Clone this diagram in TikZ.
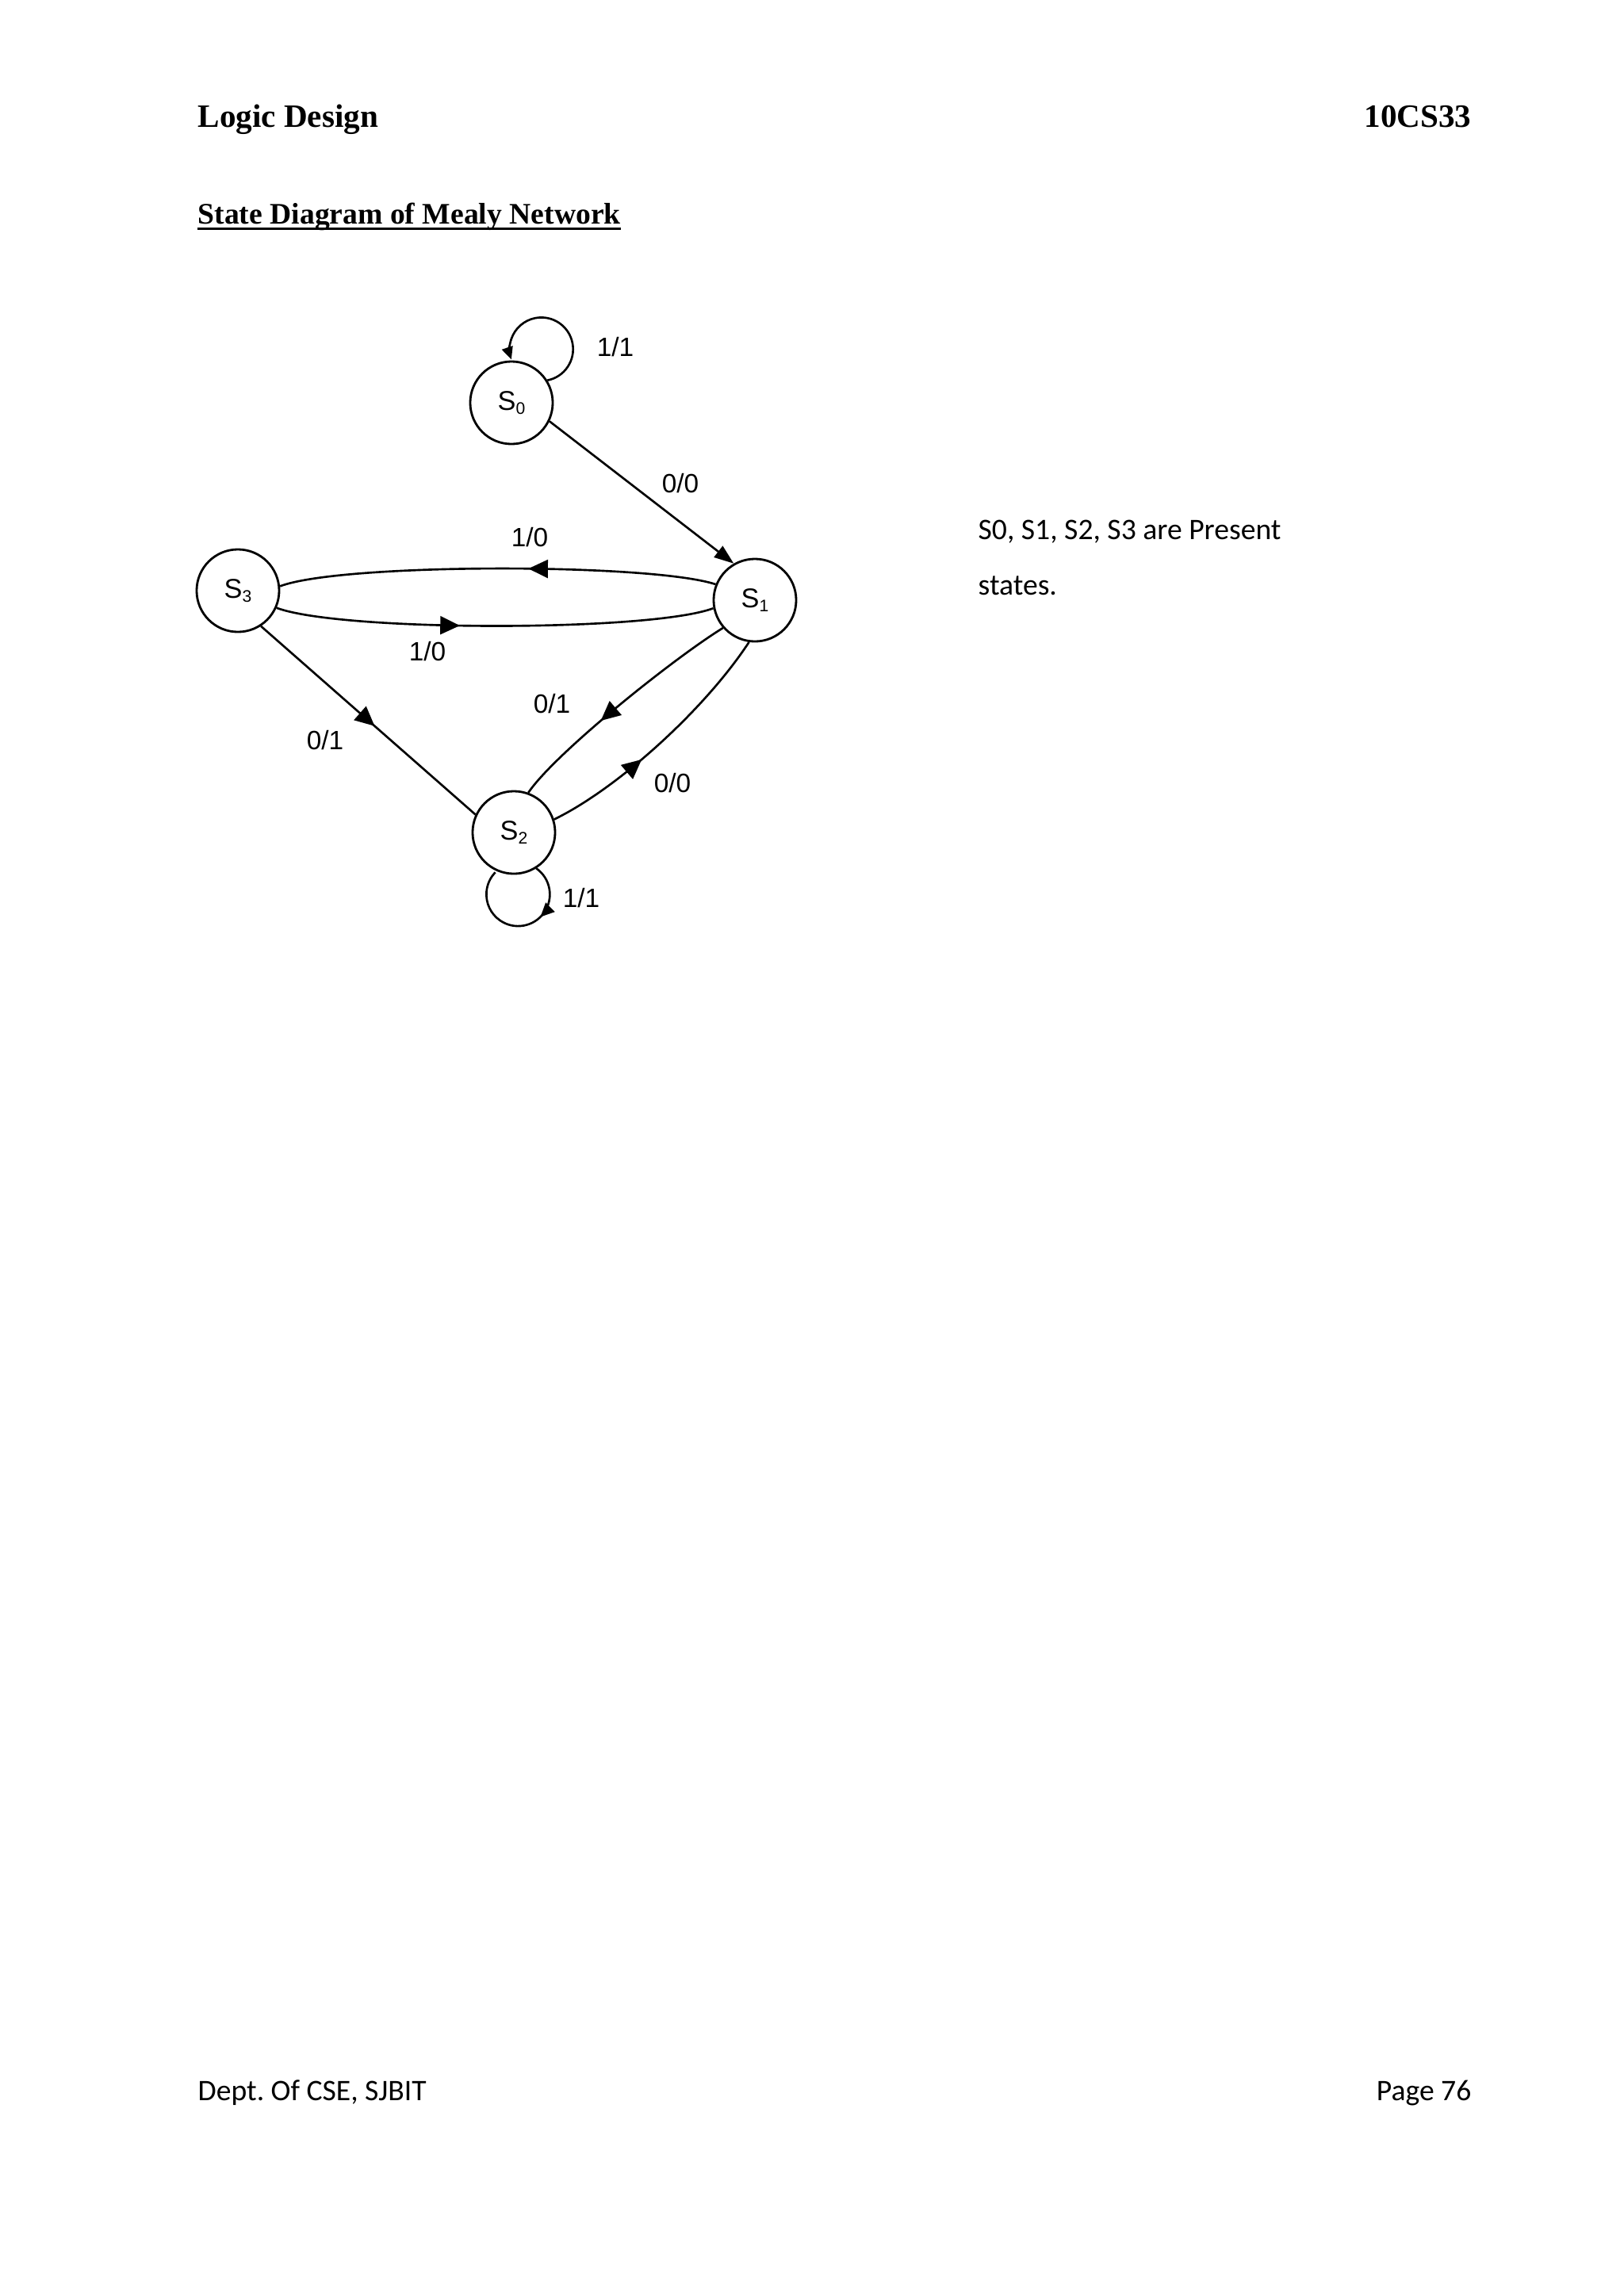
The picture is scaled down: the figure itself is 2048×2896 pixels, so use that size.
\documentclass[tikz,border=0pt]{standalone}
\usepackage{fontspec}
\setmainfont{Liberation Serif}
\newfontfamily\diagfont{Liberation Sans}
\newfontfamily\bodyfont{Carlito}
\usetikzlibrary{arrows.meta,decorations.markings}
\frenchspacing
\begin{document}
\begin{tikzpicture}[x=0.01cm,y=0.01cm,
  state/.style={draw,circle,line width=0.8pt,minimum size=1.04cm,inner sep=0pt,font=\diagfont\fontsize{9.75pt}{11pt}\selectfont},
  lbl/.style={inner sep=0pt,anchor=base,font=\diagfont\fontsize{9.5pt}{11pt}\selectfont},
  edge/.style={line width=0.75pt},
  endarr/.style={-{Triangle[length=7pt,width=5pt]}},
  loopend/.style={-{Triangle[length=4.5pt,width=4pt]}},
  midarr/.style={postaction={decorate,decoration={markings,mark=at position #1 with {\arrow{Triangle[length=7pt,width=6.5pt]}}}}},
  midarrsmall/.style={postaction={decorate,decoration={markings,mark=at position #1 with {\arrow{Triangle[length=5pt,width=4.5pt]}}}}},
  hdr/.style={inner sep=0pt,font=\bfseries\fontsize{11.7pt}{14pt}\selectfont},
  body/.style={inner sep=0pt,anchor=base west,font=\bodyfont\fontsize{10.7pt}{13pt}\selectfont}
]
\fill[white] (0,0) rectangle (2048,-2896);
\useasboundingbox (0,0) rectangle (2048,-2896);

% header
\node[hdr,anchor=base west] (h1) at (249,-160) {Logic Design};
\node[hdr,anchor=base east] (h2) at (1856,-160) {10CS33};
\node[inner sep=0pt,anchor=base west,font=\bfseries\fontsize{10.7pt}{13pt}\selectfont] (title) at (249,-282) {State Diagram of Mealy Network};
\draw[line width=0.9pt] ([yshift=-1.8pt]title.base west) -- ([yshift=-1.8pt]title.base east);

% states
\node[state] (S0) at (645,-508) {S\raisebox{-1.5pt}{\fontsize{6pt}{7pt}\selectfont 0}};
\node[state] (S1) at (952,-757) {S\raisebox{-1.5pt}{\fontsize{6pt}{7pt}\selectfont 1}};
\node[state] (S3) at (300,-745) {S\raisebox{-1.5pt}{\fontsize{6pt}{7pt}\selectfont 3}};
\node[state] (S2) at (648,-1050) {S\raisebox{-1.5pt}{\fontsize{6pt}{7pt}\selectfont 2}};

% transitions
\draw[edge,loopend] (S0.32) arc[start angle=-79,end angle=199,radius=40];
\draw[edge,endarr] (S0.-26) -- (S1.120);
\draw[edge,midarr=0.43] (S1.158) .. controls (820,-710) and (430,-710) .. (S3.6);
\draw[edge,midarr=0.42] (S3.-24) .. controls (430,-797) and (820,-797) .. (S1.191);
\draw[edge,midarr=0.53] (S3.-57) -- (S2.155);
\draw[edge,midarr=0.6] (S1.-139) .. controls (850,-830) and (700,-950) .. (S2.70);
\draw[edge,midarr=0.4] (S2.18) .. controls (778,-995) and (888,-896) .. (S1.262);
\draw[edge,midarrsmall=0.36] (S2.-58) arc[start angle=55,end angle=-224,radius=40];

% labels
\node[lbl] (l1) at (776,-449) {1/1};
\node[lbl] (l2) at (858,-621) {0/0};
\node[lbl] (l3) at (668,-689) {1/0};
\node[lbl] (l4) at (539,-833) {1/0};
\node[lbl] (l5) at (410,-945) {0/1};
\node[lbl] (l6) at (696,-899) {0/1};
\node[lbl] (l7) at (848,-999) {0/0};
\node[lbl] (l8) at (733,-1144) {1/1};

% side text
\node[body] (t1) at (1233,-680) {S0, S1, S2, S3 are Present};
\node[body] (t2) at (1233,-750) {states.};

% footer
\node[body] (f1) at (249,-2649) {Dept. Of CSE, SJBIT};
\node[body,anchor=base east] (f2) at (1856,-2649) {Page 76};
\end{tikzpicture}
\end{document}
